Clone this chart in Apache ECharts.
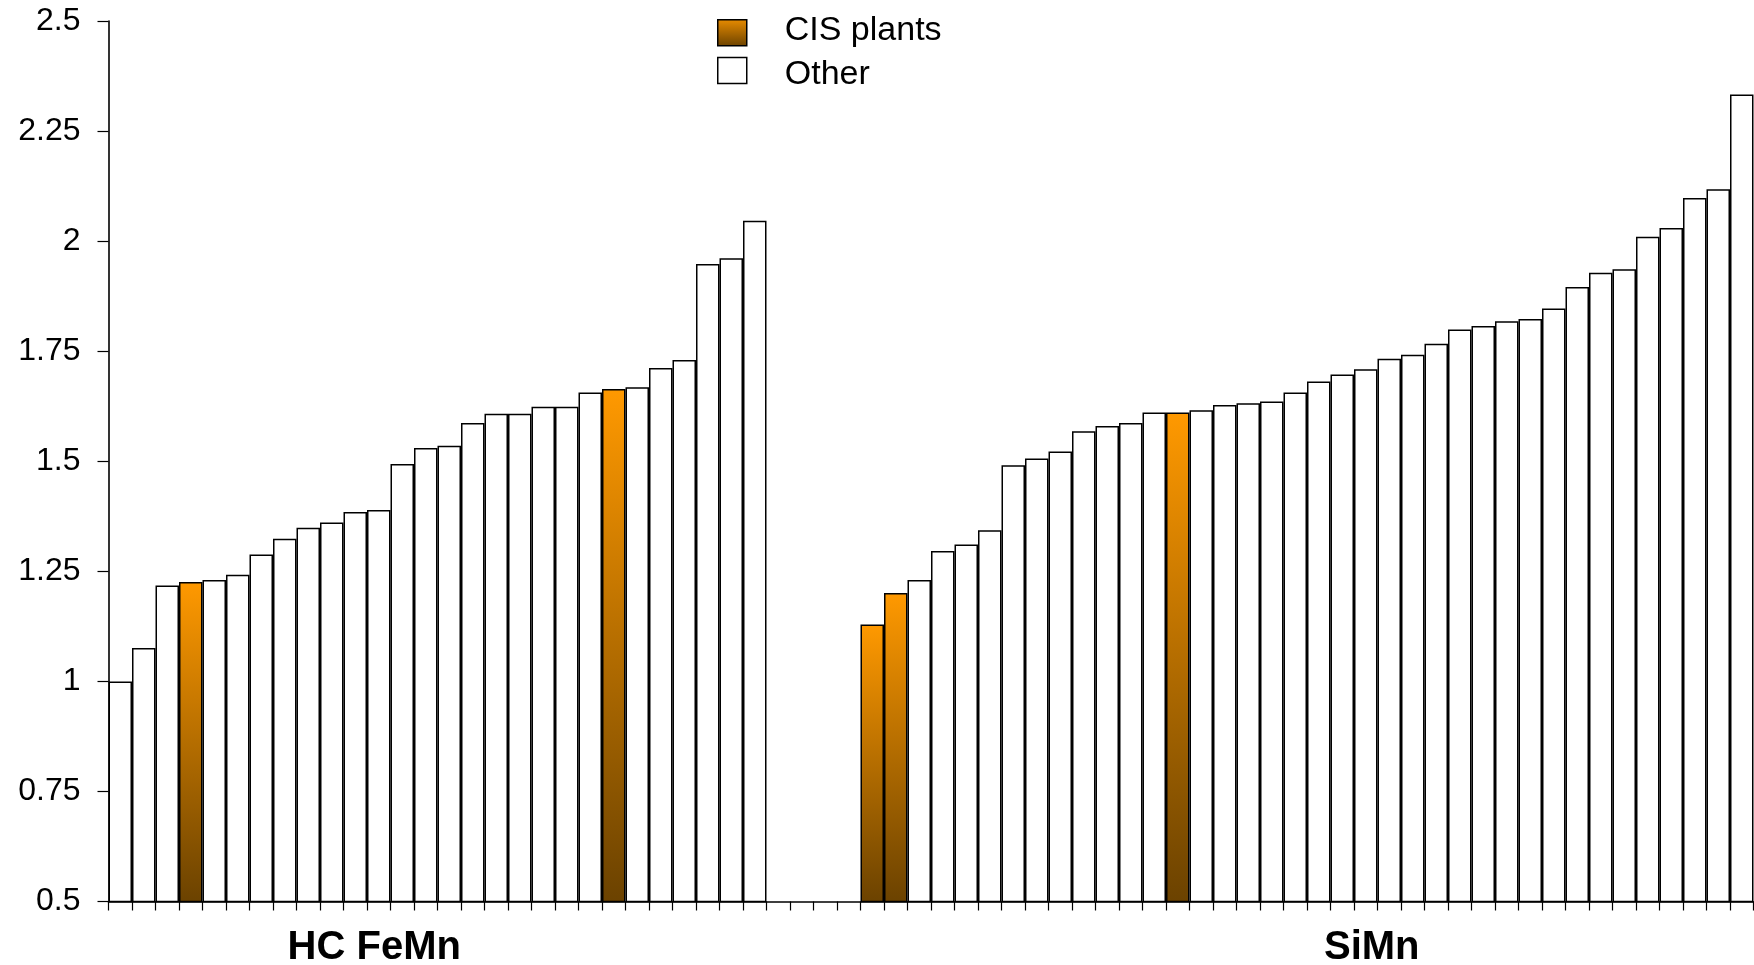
<!DOCTYPE html>
<html>
<head>
<meta charset="utf-8">
<title>HC FeMn and SiMn plants</title>
<script src="https://cdn.jsdelivr.net/npm/echarts@6/dist/echarts.min.js"></script>
<style>
  html, body { margin: 0; padding: 0; background: #ffffff; }
  #chart { width: 1754px; height: 965px; }
</style>
</head>
<body>
<div id="chart"></div>
<script>
// HC FeMn plants, sorted ascending
const hcFeMnValues = [
  1.000, 1.076, 1.218, 1.226, 1.230, 1.242, 1.288, 1.324, 1.349, 1.361,
  1.385, 1.389, 1.494, 1.530, 1.535, 1.587, 1.608, 1.608, 1.624, 1.624,
  1.656, 1.664, 1.668, 1.712, 1.730, 1.948, 1.961, 2.046
];
// zero-based positions of CIS plants inside the HC FeMn group
const hcFeMnCis = [3, 21];

// SiMn plants, sorted ascending
const siMnValues = [
  1.129, 1.201, 1.230, 1.296, 1.311, 1.343, 1.491, 1.506, 1.522, 1.568,
  1.580, 1.587, 1.611, 1.611, 1.616, 1.628, 1.632, 1.636, 1.656, 1.681,
  1.697, 1.709, 1.733, 1.742, 1.767, 1.799, 1.807, 1.818, 1.823, 1.847,
  1.896, 1.928, 1.936, 2.010, 2.030, 2.098, 2.118, 2.333
];
// zero-based positions of CIS plants inside the SiMn group
const siMnCis = [0, 1, 13];

const groupNames = ['HC FeMn', 'SiMn'];
const legendNames = ['CIS plants', 'Other'];
const yMin = 0.5, yMax = 2.5, yStep = 0.25;

// ---- build the category axis and the two bar series ----
const GAP_SLOTS = 4;              // empty categories between the groups
const LABEL_SLOT = [11, 21];      // slot inside each group that carries its name
const categories = [];
const cisData = [];
const otherData = [];
const groupLabelAt = {};

function addGroup(gi, values, cisIdx) {
  const start = categories.length;
  values.forEach((v, i) => {
    categories.push(groupNames[gi] + ' #' + (i + 1));
    const isCis = cisIdx.indexOf(i) >= 0;
    cisData.push(isCis ? v : '-');
    otherData.push(isCis ? '-' : v);
  });
  groupLabelAt[start + LABEL_SLOT[gi]] = gi;
}

addGroup(0, hcFeMnValues, hcFeMnCis);
for (let g = 0; g < GAP_SLOTS; g++) {
  categories.push('gap #' + (g + 1));
  cisData.push('-');
  otherData.push('-');
}
addGroup(1, siMnValues, siMnCis);

const FONT = "'Liberation Sans', Arial, Helvetica, sans-serif";

const cisFill = new echarts.graphic.LinearGradient(0, 0, 0, 1, [
  { offset: 0, color: '#FF9900' },
  { offset: 1, color: '#6B4200' }
]);

const chart = echarts.init(document.getElementById('chart'), null, { renderer: 'canvas' });

// Legend swatches: a 29x26 square plus a zero-length anchor point, so the
// label sits slightly above (CIS) or below (Other) the middle of its swatch.
const SWATCH_LOW  = 'path://M0,0L0,0M0,5L29,5L29,31L0,31Z';
const SWATCH_HIGH = 'path://M0,34L0,34M0,0L29,0L29,26L0,26Z';

const legendBase = {
  orient: 'vertical',
  left: 717,
  padding: 0,
  itemWidth: 29,
  selectedMode: false,
  itemStyle: { borderColor: '#000', borderWidth: 1.5 },
  textStyle: { fontSize: 34, color: '#000', fontFamily: FONT, padding: [0, 0, 0, 33] }
};

chart.setOption({
  animation: false,
  backgroundColor: '#ffffff',
  grid: {
    left: 108.5,
    right: 0.5,
    top: 21,
    bottom: 63.5,
    containLabel: false,
    outerBoundsMode: 'none'
  },
  legend: [
    Object.assign({}, legendBase, {
      top: 13.3,
      itemHeight: 31,
      icon: SWATCH_LOW,
      data: [legendNames[0]]
    }),
    Object.assign({}, legendBase, {
      top: 56.7,
      itemHeight: 34,
      icon: SWATCH_HIGH,
      data: [legendNames[1]]
    })
  ],
  xAxis: {
    type: 'category',
    data: categories,
    boundaryGap: true,
    axisLine: { show: true, lineStyle: { color: '#000', width: 1.6 } },
    axisTick: { show: true, interval: 0, length: 9, lineStyle: { color: '#000', width: 1.2 } },
    splitLine: { show: false },
    axisLabel: {
      interval: 0,
      margin: 26,
      color: '#000',
      fontFamily: FONT,
      fontSize: 40,
      fontWeight: 'bold',
      formatter: function (value, index) {
        const gi = groupLabelAt[index];
        if (gi === undefined) return '';
        return (gi === 0 ? '{a|' : '{b|') + groupNames[gi] + '}';
      },
      rich: {
        a: { fontFamily: FONT, fontSize: 40, fontWeight: 'bold', color: '#000', padding: [0, 9, 0, 0] },
        b: { fontFamily: FONT, fontSize: 40, fontWeight: 'bold', color: '#000', padding: [0, 0, 0, 12] }
      }
    }
  },
  yAxis: {
    type: 'value',
    min: yMin,
    max: yMax,
    interval: yStep,
    axisLine: { show: true, lineStyle: { color: '#000', width: 1.6 } },
    axisTick: { show: true, length: 11, lineStyle: { color: '#000', width: 1.2 } },
    splitLine: { show: false },
    axisLabel: { color: '#000', fontFamily: FONT, fontSize: 32, margin: 28 }
  },
  series: [
    {
      name: legendNames[0],
      type: 'bar',
      data: cisData,
      barWidth: '100%',
      barGap: '-100%',
      barCategoryGap: '0%',
      startValue: yMin,
      itemStyle: { color: cisFill, borderColor: '#000', borderWidth: 1.5 }
    },
    {
      name: legendNames[1],
      type: 'bar',
      data: otherData,
      barWidth: '100%',
      barGap: '-100%',
      barCategoryGap: '0%',
      startValue: yMin,
      itemStyle: { color: '#ffffff', borderColor: '#000', borderWidth: 1.5 }
    }
  ]
});
</script>
</body>
</html>
